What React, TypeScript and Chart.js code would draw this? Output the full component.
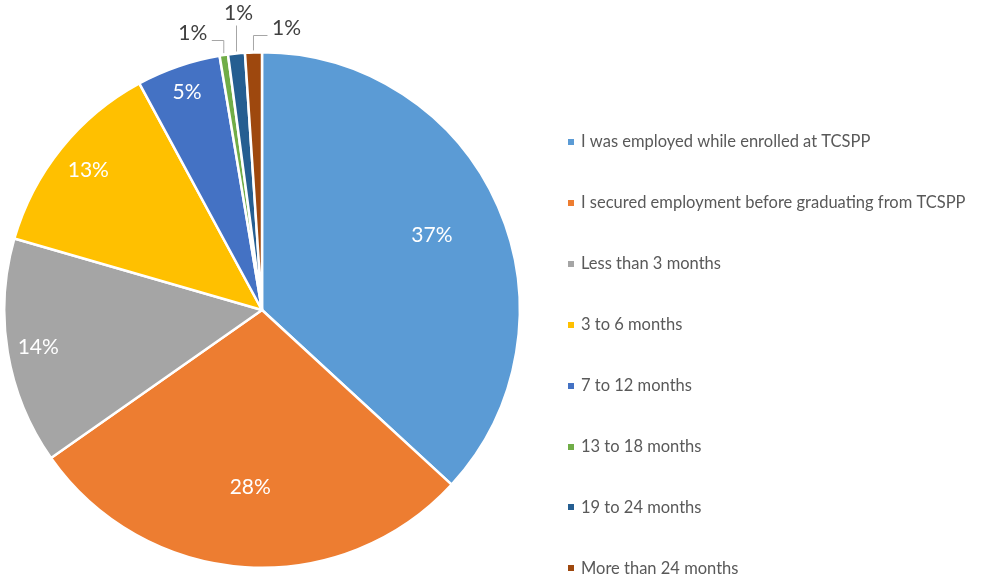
import React, { useEffect, useRef } from "react";
import { Chart, registerables } from "chart.js";

Chart.register(...registerables);

const categories = [
  "I was employed while enrolled at TCSPP",
  "I secured employment before graduating from TCSPP",
  "Less than 3 months",
  "3 to 6 months",
  "7 to 12 months",
  "13 to 18 months",
  "19 to 24 months",
  "More than 24 months",
];
const counts = [70, 54, 27, 24, 10, 1, 2, 2];
const colors = ["#5B9BD5", "#ED7D31", "#A5A5A5", "#FFC000", "#4472C4", "#70AD47", "#255E91", "#9E480E"];
// radial position of inside labels, as fraction of radius
const insideLabelRadius = [0.72, 0.69, 0.88, 0.865, 0.895, 0, 0, 0];
// outside label offsets from the slice's outer mid point
const outsideLabelOffsets: (number[] | null)[] = [null, null, null, null, null, [-31, -22], [2, -40], [33, -24]];

const FONT = "Lato, 'Open Sans', sans-serif";

const labelPlugin = {
  id: "sliceLabels",
  afterDatasetsDraw(chart: any) {
    const ctx = chart.ctx;
    const meta = chart.getDatasetMeta(0);
    const data = chart.data.datasets[0].data as number[];
    const total = data.reduce((a, b) => a + b, 0);
    ctx.save();
    meta.data.forEach((arc: any, i: number) => {
      const p = arc.getProps(["x", "y", "startAngle", "endAngle", "outerRadius"], true);
      const mid = (p.startAngle + p.endAngle) / 2;
      const text = Math.round((data[i] / total) * 100) + "%";
      const off = outsideLabelOffsets[i];
      ctx.textAlign = "center";
      ctx.textBaseline = "middle";
      ctx.font = `21px ${FONT}`;
      if (!off) {
        const r = p.outerRadius * insideLabelRadius[i];
        ctx.fillStyle = "#FFFFFF";
        ctx.fillText(text, p.x + Math.cos(mid) * r, p.y + Math.sin(mid) * r);
      } else {
        const ax = p.x + Math.cos(mid) * p.outerRadius;
        const ay = p.y + Math.sin(mid) * p.outerRadius;
        const lx = ax + off[0];
        const ly = ay + off[1];
        ctx.fillStyle = "#404040";
        ctx.fillText(text, lx, ly);
        ctx.strokeStyle = "#A6A6A6";
        ctx.lineWidth = 1;
        ctx.beginPath();
        if (Math.abs(off[0]) < 8) {
          ctx.moveTo(Math.round(ax) + 0.5, ly + 12);
          ctx.lineTo(Math.round(ax) + 0.5, ay - 2);
        } else {
          const sx = off[0] < 0 ? lx + 19 : lx - 19;
          const ey = Math.round(ly + 7) + 0.5;
          ctx.moveTo(sx, ey);
          ctx.lineTo(ax, ey);
          ctx.lineTo(ax, ay - 2);
        }
        ctx.stroke();
      }
    });
    ctx.restore();
  },
};

const legendPlugin = {
  id: "sideLegend",
  afterDraw(chart: any) {
    const ctx = chart.ctx;
    ctx.save();
    ctx.font = `16.5px ${FONT}`;
    ctx.textAlign = "left";
    ctx.textBaseline = "middle";
    categories.forEach((c, i) => {
      const y = 142 + i * 60.9;
      ctx.fillStyle = colors[i];
      ctx.fillRect(568, Math.round(y) - 3, 6, 6);
      ctx.fillStyle = "#595959";
      ctx.fillText(c, 581, y);
    });
    ctx.restore();
  },
};

export default function App() {
  const ref = useRef<HTMLCanvasElement>(null);
  useEffect(() => {
    if (!ref.current) return;
    const chart = new Chart(ref.current, {
      type: "pie",
      data: {
        labels: categories,
        datasets: [
          {
            data: counts,
            backgroundColor: colors,
            borderColor: "#FFFFFF",
            borderWidth: 2.5,
          },
        ],
      },
      options: {
        animation: false,
        responsive: false,
        maintainAspectRatio: false,
        layout: { padding: { left: 3, right: 464, top: 51, bottom: 12 } },
        plugins: {
          legend: { display: false },
          tooltip: { enabled: false },
        },
      },
      plugins: [labelPlugin, legendPlugin],
    });
    return () => chart.destroy();
  }, []);
  return (
    <div style={{ position: "absolute", left: 0, top: 0, width: 985, height: 581, background: "#fff" }}>
      <canvas ref={ref} width={985} height={581} style={{ width: 985, height: 581 }} />
    </div>
  );
}
